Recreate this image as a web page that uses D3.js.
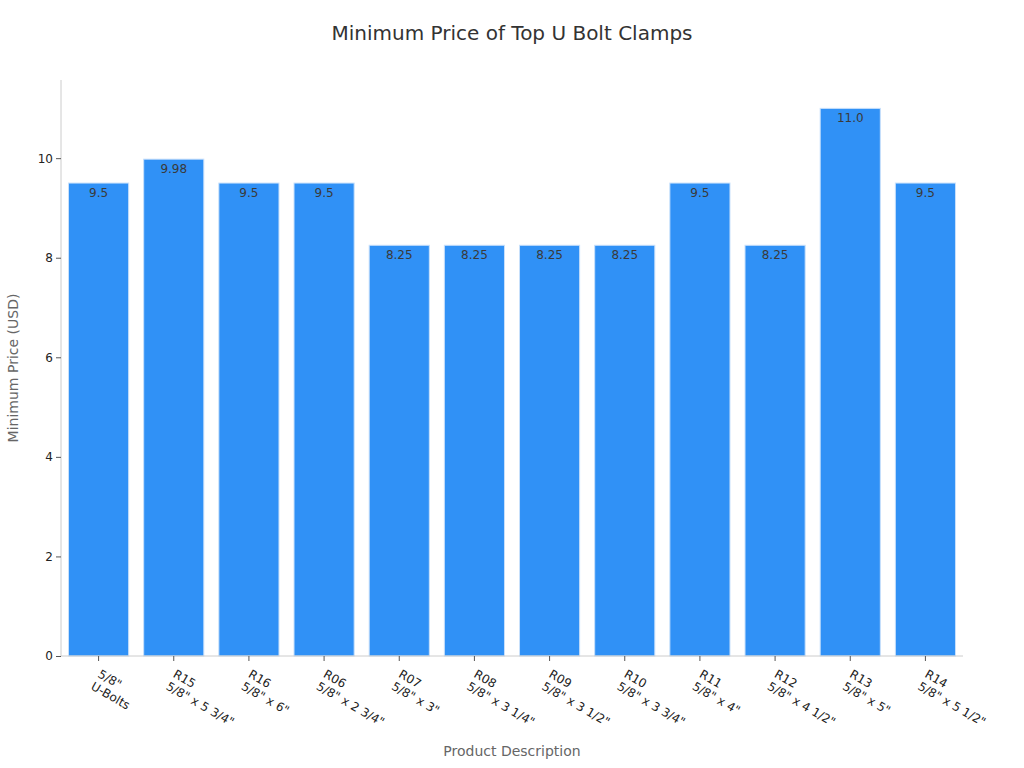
<!DOCTYPE html>
<html>
<head>
<meta charset="utf-8">
<script src="https://cdn.jsdelivr.net/npm/d3@7"></script>
<style>
  body { margin: 0; background: #fff; }
  svg { font-family: "DejaVu Sans", sans-serif; }
</style>
</head>
<body>
<svg id="chart" width="1024" height="768"></svg>
<script>
const categoryLine1 = ["5/8\"", "R15", "R16", "R06", "R07", "R08", "R09", "R10", "R11", "R12", "R13", "R14"];
const categoryLine2 = ["U-Bolts", "5/8\" x 5 3/4\"", "5/8\" x 6\"", "5/8\" x 2 3/4\"", "5/8\" x 3\"", "5/8\" x 3 1/4\"", "5/8\" x 3 1/2\"", "5/8\" x 3 3/4\"", "5/8\" x 4\"", "5/8\" x 4 1/2\"", "5/8\" x 5\"", "5/8\" x 5 1/2\""];
const prices = [9.5, 9.98, 9.5, 9.5, 8.25, 8.25, 8.25, 8.25, 9.5, 8.25, 11.0, 9.5];
const priceLabels = ["9.5", "9.98", "9.5", "9.5", "8.25", "8.25", "8.25", "8.25", "9.5", "8.25", "11.0", "9.5"];
const yTicks = [0, 2, 4, 6, 8, 10];

const svg = d3.select("#chart");
const margin = { left: 61, right: 61, top: 80, bottom: 112 };
const W = 1024, H = 768;

const keys = d3.range(prices.length);
const x = d3.scaleBand().domain(keys).range([margin.left, W - margin.right]).paddingInner(0.2).paddingOuter(0.1);
const y = d3.scaleLinear().domain([0, 11.57]).range([H - margin.bottom, margin.top]);

// title
svg.append("text").attr("x", 512).attr("y", 40).attr("text-anchor", "middle")
  .attr("font-size", 20).attr("fill", "#333").text("Minimum Price of Top U Bolt Clamps");

// bars
svg.append("g").selectAll("rect").data(keys).join("rect")
  .attr("x", i => x(i)).attr("width", x.bandwidth())
  .attr("y", i => y(prices[i])).attr("height", i => y(0) - y(prices[i]))
  .attr("fill", "#3091f6").attr("stroke", "#c8e0fb").attr("stroke-width", 1);

// value labels
svg.append("g").selectAll("text").data(keys).join("text")
  .attr("x", i => x(i) + x.bandwidth() / 2).attr("y", i => y(prices[i]) + 14)
  .attr("text-anchor", "middle").attr("font-size", 12).attr("fill", "#3a3a3a")
  .text(i => priceLabels[i]);

// y axis
const yAxis = svg.append("g").attr("transform", `translate(${margin.left},0)`)
  .call(d3.axisLeft(y).tickValues(yTicks).tickSize(5).tickPadding(3).tickFormat(d3.format("d")));
yAxis.select(".domain").attr("stroke", "#ccc").attr("d", `M0,${y(0)}V${margin.top}`);
yAxis.selectAll(".tick line").attr("stroke", "#555");
yAxis.selectAll(".tick text").attr("font-size", 12).attr("fill", "#222").attr("font-family", "DejaVu Sans");

// x axis
const xAxis = svg.append("g").attr("transform", `translate(0,${y(0)})`)
  .call(d3.axisBottom(x).tickSize(5).tickFormat(""));
xAxis.select(".domain").attr("stroke", "#ccc").attr("d", `M${margin.left},0H${W - margin.right}`);
xAxis.selectAll(".tick line").attr("stroke", "#555");
xAxis.selectAll(".tick").each(function(i) {
  const t = d3.select(this).append("text")
    .attr("transform", "translate(4,11) rotate(30)")
    .attr("text-anchor", "start").attr("font-size", 12).attr("fill", "#222")
    .attr("font-family", "DejaVu Sans");
  t.append("tspan").attr("x", 0).attr("y", 11).text(categoryLine1[i]);
  t.append("tspan").attr("x", 0).attr("y", 25).text(categoryLine2[i]);
});

// axis titles
svg.append("text").attr("x", 512).attr("y", 756).attr("text-anchor", "middle")
  .attr("font-size", 14).attr("fill", "#666").text("Product Description");
svg.append("text").attr("transform", `translate(18,${(y(0) + margin.top) / 2}) rotate(-90)`)
  .attr("text-anchor", "middle").attr("font-size", 14).attr("fill", "#666").text("Minimum Price (USD)");
</script>
</body>
</html>
